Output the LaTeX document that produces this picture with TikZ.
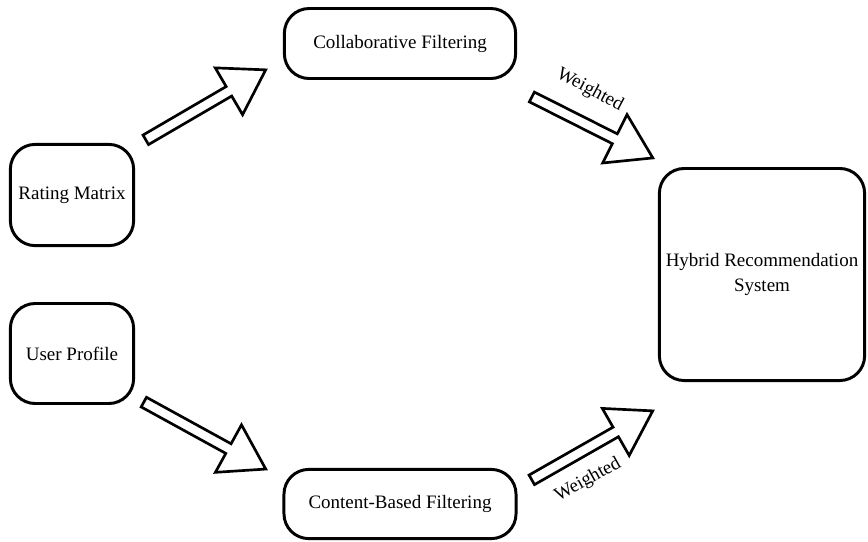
\documentclass[tikz,border=0pt]{standalone}
\usepackage{fontspec}
\setmainfont{Liberation Serif}
\usepackage{tikz}
\usetikzlibrary{calc,shapes.arrows}

\newcommand{\blockarrow}[3]{%
  \path let \p1=($(#3)-(#2)$), \n1={atan2(\y1,\x1)}, \n2={veclen(\x1,\y1)} in
    node[hollow,minimum height=\n2,rotate=\n1] (#1) at ($(#2)!0.5!(#3)$) {};}

\begin{document}
\begin{tikzpicture}[
  x=0.025cm,y=-0.025cm,
  box/.style={draw,line width=2.1pt,rounded corners=0.62cm,align=center,
    font=\fontsize{13.5}{17.8}\selectfont},
  hollow/.style={single arrow,draw,line width=1.9pt,inner sep=0.104cm,
    single arrow head extend=0.54cm,single arrow tip angle=65},
  weight/.style={font=\fontsize{13.5}{16}\selectfont}
]
\useasboundingbox (0,0) rectangle (868,541);
\node[box,minimum width=5.78cm,minimum height=1.75cm] (collab) at (400,43.5) {Collaborative Filtering};
\node[box,minimum width=3.08cm,minimum height=2.53cm] (rating) at (72,195) {Rating Matrix};
\node[box,minimum width=3.08cm,minimum height=2.5cm] (user) at (72,353.5) {User Profile};
\node[box,minimum width=5.8cm,minimum height=1.73cm] (content) at (400,504) {Content-Based Filtering};
\node[box,minimum width=5.13cm,minimum height=5.3cm] (hybrid) at (762,274.5) {Hybrid Recommendation\\System};

\coordinate (t1) at (142,142); \coordinate (h1) at (262,72);
\coordinate (t2) at (528,95);  \coordinate (h2) at (649,156);
\coordinate (t3) at (140,400); \coordinate (h3) at (262,467);
\coordinate (t4) at (528,482); \coordinate (h4) at (649,413);

\blockarrow{a1}{t1}{h1}
\blockarrow{a2}{t2}{h2}
\blockarrow{a3}{t3}{h3}
\blockarrow{a4}{t4}{h4}

\node[weight,rotate=-28] (w1) at (590,90) {Weighted};
\node[weight,rotate=29] (w2) at (588,480) {Weighted};
\end{tikzpicture}
\end{document}
